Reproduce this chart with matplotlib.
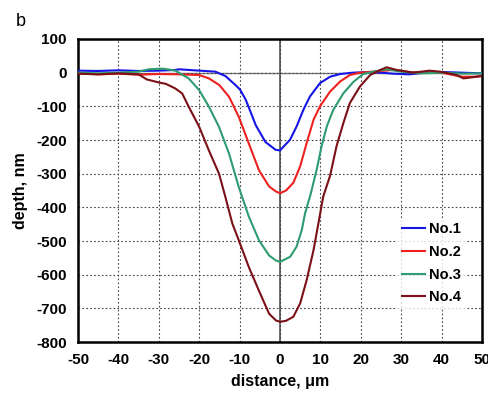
import matplotlib
matplotlib.use("Agg")
import matplotlib.pyplot as plt

# depth profiles (distance in um, depth in nm)
x1 = [-50, -45, -40, -35, -30, -26, -25, -20, -16, -13.5, -11, -9.9, -8.5, -7.4, -6, -3.6, -1.1, 0,
      2.5, 4.1, 5.8, 7.4, 9.9, 12.4, 14.9, 18, 22, 25, 28, 32, 36, 40, 45, 50]
y1 = [6, 5, 7, 5, 6, 8, 10, 6, 3, -10, -37, -50, -80, -113, -156, -206, -229, -231,
      -199, -160, -110, -71, -31, -12, -4, 0, 2, 0, -3, -5, 0, 2, 0, -2]

x2 = [-50, -45, -40, -35, -30, -25, -20, -17.6, -15, -12.6, -10.2, -7.7, -5.2, -2.7, -1, 0,
      1.5, 3.3, 5, 6.6, 8.3, 9.9, 12.4, 14.9, 17.3, 19.8, 25, 28, 32, 36, 40, 45, 48, 50]
y2 = [-2, -5, -3, -6, -4, -5, -7, -17, -37, -72, -131, -211, -290, -338, -353, -358,
      -350, -327, -278, -209, -140, -100, -56, -26, -7, 0, 5, 8, 2, 0, 0, -12, -12, -10]

x3 = [-50, -45, -40, -35, -32.5, -29, -25.9, -22.6, -20, -17.6, -15.1, -12.6, -10.2, -7.7, -5.2, -2.7, -1, 0,
      2.5, 4.1, 5.4, 6.2, 7.6, 9.1, 10.3, 11.6, 13.2, 15.7, 18.2, 20.6, 23.1, 26.4, 30, 35, 40, 45, 50]
y3 = [0, -2, 0, 3, 10, 12, 6, -17, -52, -101, -161, -241, -340, -428, -498, -543, -558, -562,
      -547, -517, -467, -418, -360, -287, -218, -159, -110, -61, -27, -4, 3, 10, 3, -2, 0, -3, -2]

x4 = [-50, -45, -40, -35, -33, -29.7, -28.3, -25.9, -24.2, -22.6, -20, -17.6, -15.1, -13.5, -11.8, -10.2,
      -7.7, -5.2, -2.7, -1, 0, 1.5, 3.3, 5, 6.6, 8.3, 9.5, 10.7, 12.4, 14, 15.7, 17.3, 19.8, 22.3, 24.8, 26.4,
      28.9, 33, 37, 39.6, 43.7, 45.4, 48.7, 50]
y4 = [-3, -5, -2, -5, -20, -30, -33, -47, -62, -101, -161, -231, -300, -370, -448, -498,
      -578, -648, -716, -736, -740, -737, -725, -685, -616, -527, -448, -368, -306, -218, -149, -90, -41, -7, 8, 16,
      8, 0, 6, 3, -7, -17, -12, -10]

labels = ["No.1", "No.2", "No.3", "No.4"]
colors = ["#1515e6", "#ee2020", "#2e9b70", "#7b1016"]

xticks = list(range(-50, 51, 10))
yticks = list(range(-800, 101, 100))

plt.rcParams['font.family'] = ['Liberation Sans', 'DejaVu Sans']
plt.rcParams['axes.unicode_minus'] = False

fig = plt.figure(figsize=(4.89, 3.93), dpi=100)
ax = fig.add_axes([78 / 489, 51 / 393, 404 / 489, 303 / 393])

ax.axhline(0, color="#808080", lw=1.0, zorder=1)
ax.axvline(0, color="#606060", lw=1.3, zorder=1)

for xs, ys, lab, c in zip([x1, x2, x3, x4], [y1, y2, y3, y4], labels, colors):
    ax.plot(xs, ys, color=c, lw=1.5, label=lab, zorder=3)

ax.set_xlim(-50, 50)
ax.set_ylim(-800, 100)
ax.set_xticks(xticks)
ax.set_yticks(yticks)
ax.grid(True, color="#444444", lw=0.8, linestyle=(0, (1.5, 2)))
ax.tick_params(length=0, labelsize=11, pad=8)
for t in ax.get_xticklabels() + ax.get_yticklabels():
    t.set_fontweight("bold")
for s in ax.spines.values():
    s.set_linewidth(1.8)

ax.set_xlabel("distance, \u03bcm", fontsize=11.5, fontweight="bold", labelpad=5)
ax.set_ylabel("depth, nm", fontsize=11.5, fontweight="bold", labelpad=6)

leg = ax.legend(loc="upper left", bbox_to_anchor=(0.79, 0.41), frameon=True,
                prop={"weight": "bold", "size": 10.5}, handlelength=1.6,
                handletextpad=0.25, labelspacing=0.6, borderpad=0.3,
                borderaxespad=0, fancybox=False)
leg.get_frame().set_edgecolor("none")
leg.get_frame().set_facecolor("white")

fig.text(16 / 489, 1 - 26 / 393, "b", fontsize=13, va="baseline", ha="left")

fig.savefig("out.png", dpi=100)
